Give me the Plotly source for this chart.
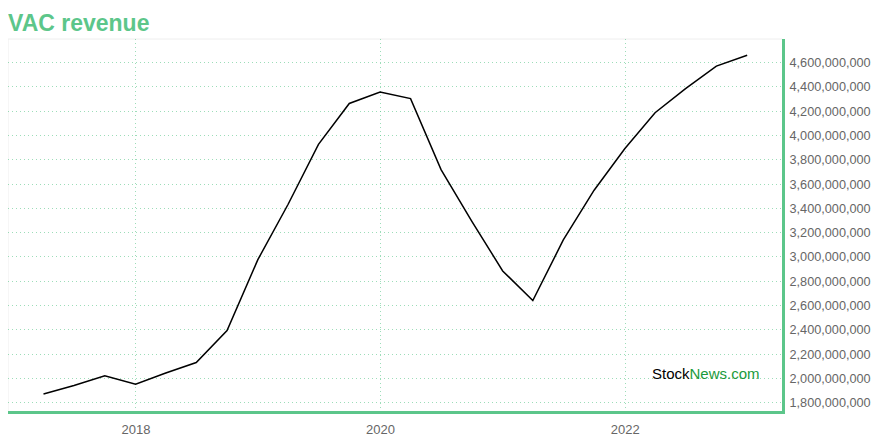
import plotly.graph_objects as go

dates = ["2017-03-31", "2017-06-30", "2017-09-30", "2017-12-31",
         "2018-03-31", "2018-06-30", "2018-09-30", "2018-12-31",
         "2019-03-31", "2019-06-30", "2019-09-30", "2019-12-31",
         "2020-03-31", "2020-06-30", "2020-09-30", "2020-12-31",
         "2021-03-31", "2021-06-30", "2021-09-30", "2021-12-31",
         "2022-03-31", "2022-06-30", "2022-09-30", "2022-12-31"]
revenue = [1.872e9, 1.942e9, 2.022e9, 1.953e9,
           2.044e9, 2.131e9, 2.394e9, 2.978e9,
           3.432e9, 3.927e9, 4.264e9, 4.358e9,
           4.304e9, 3.719e9, 3.294e9, 2.885e9,
           2.641e9, 3.140e9, 3.550e9, 3.893e9,
           4.188e9, 4.386e9, 4.572e9, 4.661e9]
title_text = "VAC revenue"

GREEN = "#5cc68a"
GRID = "rgba(92,198,138,0.6)"

fig = go.Figure()
fig.add_trace(go.Scatter(x=dates, y=revenue, mode="lines",
                         line=dict(color="#000000", width=1.5),
                         showlegend=False, hoverinfo="skip"))

# page has an 8px body margin, so the figure is 872x432 and offset by 8px
fig.update_layout(
    width=872, height=432,
    margin=dict(l=0, r=98, t=31, b=29, autoexpand=False),
    paper_bgcolor="white", plot_bgcolor="white",
    title=dict(text="<b>" + title_text + "</b>", x=0, xanchor="left",
               xref="container", y=0.985, yanchor="top", yref="container",
               font=dict(family="Liberation Sans, Arial, sans-serif", size=23, color=GREEN)),
    font=dict(family="Liberation Sans, Arial, sans-serif", size=13, color="#666666"),
)

fig.update_xaxes(
    type="date", range=["2016-12-15", "2023-04-14"],
    dtick="M24", tick0="2018-01-01", tickformat="%Y",
    showgrid=True, gridcolor=GRID, griddash="1px,3px", gridwidth=1,
    showline=True, linecolor=GREEN, linewidth=3,
    ticks="outside", ticklen=4, tickcolor="rgba(0,0,0,0)",
    zeroline=False, tickfont=dict(size=13, color="#666666"),
)
fig.update_yaxes(
    side="right", range=[1.7315e9, 4.795e9],
    dtick=2e8, tick0=0, tickformat=",d",
    showgrid=True, gridcolor=GRID, griddash="1px,3px", gridwidth=1,
    showline=True, linecolor=GREEN, linewidth=3,
    ticks="outside", ticklen=2, tickcolor="rgba(0,0,0,0)",
    zeroline=False, tickfont=dict(size=12.7, color="#666666"),
)

# light frame on top/left
fig.add_shape(type="line", xref="paper", yref="paper", x0=0, x1=1, y0=1, y1=1,
              line=dict(color="#eeeeee", width=1), layer="below")
fig.add_shape(type="line", xref="paper", yref="paper", x0=0, x1=0, y0=0, y1=1,
              line=dict(color="#eeeeee", width=1), layer="below")

fig.add_annotation(
    text="<span style='color:#000000'>Stock</span><span style='color:#1a9a3c'>News.com</span>",
    xref="paper", yref="paper", x=(762-8)/774, y=(411-373)/372,
    xanchor="right", yanchor="middle", showarrow=False,
    font=dict(family="Liberation Sans, Arial, sans-serif", size=15),
)

fig.write_html("out.html")
